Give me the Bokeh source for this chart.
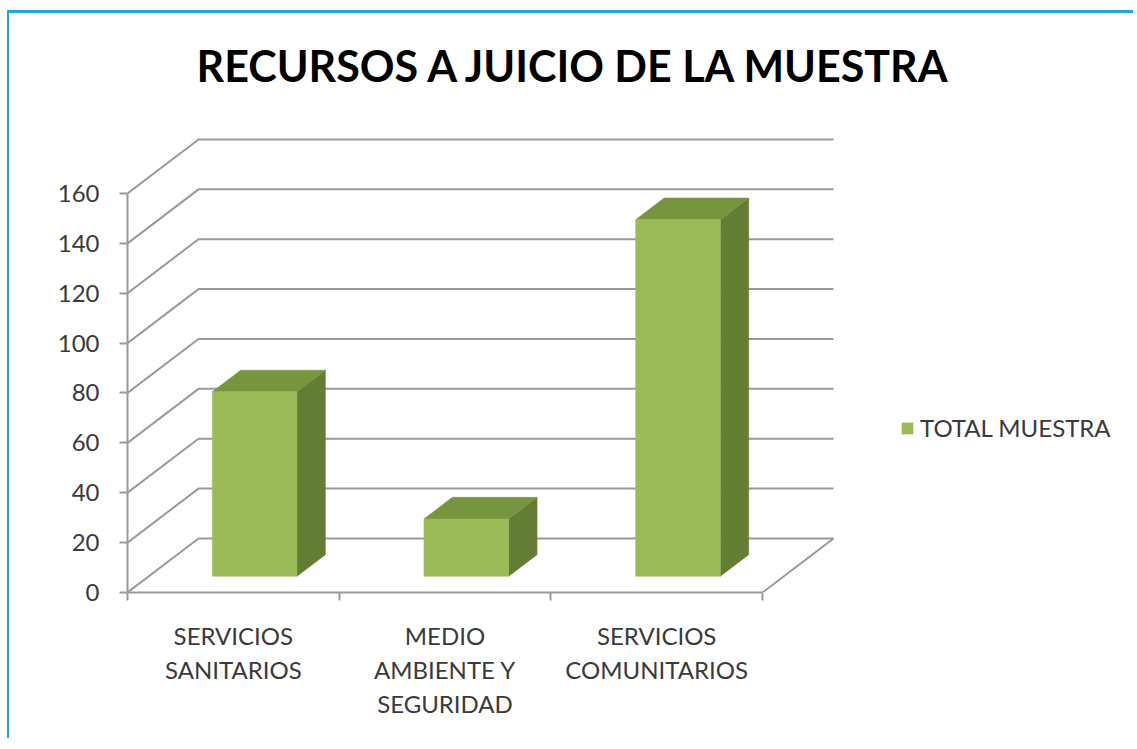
from bokeh.plotting import figure
from bokeh.models import FixedTicker, Legend, LegendItem, Range1d
from bokeh.embed import file_html
from bokeh.resources import INLINE

# ---- data ----
categories = ["SERVICIOS\nSANITARIOS", "MEDIO\nAMBIENTE Y\nSEGURIDAD", "SERVICIOS\nCOMUNITARIOS"]
values = [74, 23, 143]
series_name = "TOTAL MUESTRA"
y_ticks = [0, 20, 40, 60, 80, 100, 120, 140, 160]
chart_title = "RECURSOS A JUICIO DE LA MUESTRA"

# ---- layout constants (pixels) ----
W, H = 1126, 728
ML, MT, MB = 118, 100, 149
PX_CAT = 211.67       # pixels per category
PX_VAL = 2.494        # pixels per value unit
DEPTH_PX_X, DEPTH_PX_Y = 71, 54
DX = DEPTH_PX_X / PX_CAT
DY = DEPTH_PX_Y / PX_VAL
D1, D2 = 0.30, 0.70   # bar depth position (fraction of floor depth)
HALF = 0.20           # half bar width (categories)

n = len(categories)
x_end = (W - ML) / PX_CAT
y_end = (H - MT - MB) / PX_VAL

GRID = "#9A9A9A"
FRONT, SIDE, TOP = "#9BBB59", "#637D35", "#77953F"
FONT = "Lato"
TEXT = "#3A3A3A"

p = figure(width=W, height=H, output_backend="svg", toolbar_location=None,
           x_range=Range1d(0, x_end), y_range=Range1d(0, y_end),
           min_border_left=ML, min_border_top=MT, min_border_bottom=MB, min_border_right=0,
           background_fill_color="white", border_fill_color="white")
p.outline_line_color = None
p.xgrid.visible = False
p.ygrid.visible = False
p.styles = {"margin-top": "10px", "margin-left": "7px",
            "border-top": "3px solid #1FA7E0", "border-left": "2px solid #1FA7E0"}

# title
p.title.text = chart_title
p.title.align = "left"
p.title.offset = 69
p.title.text_font = FONT
p.title.text_font_style = "bold"
p.title.text_font_size = "43px"
p.title.text_color = "#000000"
p.title.standoff = 46

# walls / gridlines
gx, gy = [], []
for v in y_ticks:
    gx.append([0, DX, n + DX])
    gy.append([v, v + DY, v + DY])
p.multi_line(gx, gy, line_color=GRID, line_width=2)
p.line([n, n + DX], [0, DY], line_color=GRID, line_width=2)

# bars
fx, fy, sx, sy, tx, ty = [], [], [], [], [], []
for i, v in enumerate(values):
    c = i + 0.5
    l1, r1 = c - HALF + D1 * DX, c + HALF + D1 * DX
    l2, r2 = c - HALF + D2 * DX, c + HALF + D2 * DX
    b1, b2 = D1 * DY, D2 * DY
    fx.append([l1, r1, r1, l1]); fy.append([b1, b1, v + b1, v + b1])
    sx.append([r1, r2, r2, r1]); sy.append([b1, b2, v + b2, v + b1])
    tx.append([l1, r1, r2, l2]); ty.append([v + b1, v + b1, v + b2, v + b2])
p.patches(sx, sy, fill_color=SIDE, line_color=SIDE, line_width=0.5)
p.patches(tx, ty, fill_color=TOP, line_color=TOP, line_width=0.5)
front = p.patches(fx, fy, fill_color=FRONT, line_color=FRONT, line_width=0.5)

# y axis
ya = p.yaxis[0]
ya.ticker = FixedTicker(ticks=y_ticks)
ya.bounds = (0, 160)
ya.axis_line_color = GRID
ya.axis_line_width = 2
ya.major_tick_line_color = GRID
ya.major_tick_line_width = 2
ya.major_tick_out = 8
ya.major_tick_in = 0
ya.minor_tick_line_color = None
ya.major_label_text_font = FONT
ya.major_label_text_font_size = "24px"
ya.major_label_text_color = TEXT
ya.major_label_standoff = 20

# x axis
xa = p.xaxis[0]
xa.ticker = FixedTicker(ticks=[i + 0.5 for i in range(n)], minor_ticks=list(range(n + 1)))
xa.bounds = (0, n)
xa.major_label_overrides = {i + 0.5: lab for i, lab in enumerate(categories)}
xa.axis_line_color = GRID
xa.axis_line_width = 2
xa.major_tick_line_color = None
xa.major_tick_out = 0
xa.major_tick_in = 0
xa.minor_tick_line_color = GRID
xa.minor_tick_line_width = 2
xa.minor_tick_out = 8
xa.minor_tick_in = 0
xa.major_label_text_font = FONT
xa.major_label_text_font_size = "24px"
xa.major_label_text_color = TEXT
xa.major_label_text_line_height = 1.18
xa.major_label_standoff = 20

# legend
legend = Legend(items=[LegendItem(label=series_name, renderers=[front])],
                location=(773, 150), glyph_width=14, glyph_height=14, label_standoff=6,
                label_text_font=FONT, label_text_font_size="24px", label_text_color=TEXT,
                border_line_color=None, background_fill_alpha=0, padding=0, margin=0, spacing=0)
p.add_layout(legend, "center")

open("out.html", "w").write(file_html(p, INLINE))
